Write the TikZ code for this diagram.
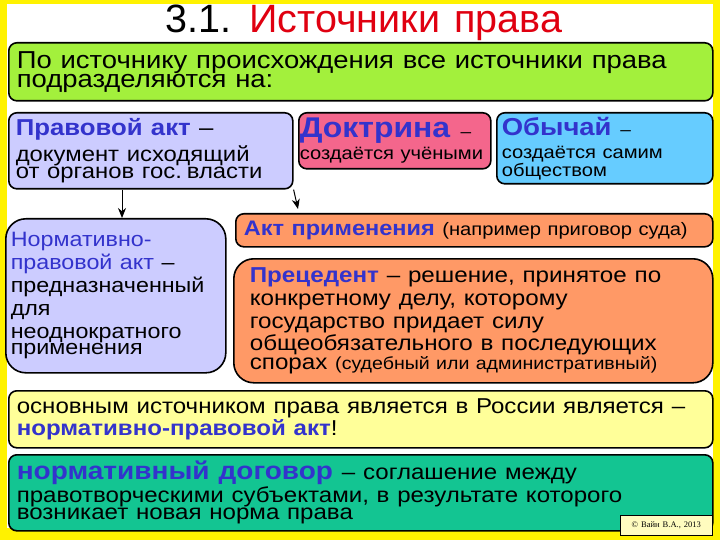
\documentclass[tikz,border=0pt]{standalone}
\usepackage{fontspec}
\setmainfont[FakeStretch=1.12]{Liberation Sans}
\newfontfamily\titlefont{Liberation Sans}
\newfontfamily\serifcopy{Liberation Serif}
\usetikzlibrary{positioning,arrows.meta}
\definecolor{srcgreen}{HTML}{A3F03C}
\definecolor{srclav}{HTML}{CCCCFF}
\definecolor{srcpink}{HTML}{F4668C}
\definecolor{srcsky}{HTML}{66CCFF}
\definecolor{srcorange}{HTML}{FF9966}
\definecolor{srcyellow}{HTML}{FFFF99}
\definecolor{srcteal}{HTML}{13C592}
\definecolor{srcblue}{HTML}{3333CC}
\definecolor{srcred}{HTML}{E00010}
\newcommand{\fsz}[2]{\fontsize{#1}{#2}\selectfont\spaceskip=0.36em plus 0.1em minus 0.04em\relax}
\newcommand{\blu}[1]{\textcolor{srcblue}{#1}}
\lineskiplimit=-100pt

\begin{document}
\begin{tikzpicture}[x=1pt,y=-1pt]
                        \tikzstyle{box}=[draw=black, line width=1.6pt, rounded corners=8pt, anchor=north west, align=left, inner ysep=2pt]
                        \tikzstyle{arr}=[line width=1pt, -{Stealth[length=10pt,width=8pt]}]
                        \useasboundingbox (0,0) rectangle (720,540);
                        \fill[yellow] (0,0) rectangle (720,540);
                        \fill[white] (7,4) rectangle (713,528);
                        \node[anchor=base] (title) at (364,33) {\titlefont\fsz{39.5}{40}3.1. \textcolor{srcred}{Источники права}};
                        \node[box, fill=srcgreen, text width=688pt, inner xsep=8pt, minimum height=58pt] (intro) at (8,42)
                            {\fsz{24.5}{26.5}По источнику происхождения все источники права\\подразделяются на:};
                        \node[box, fill=srclav, text width=270pt, inner xsep=7pt, minimum height=76pt] (pa) at (8,112)
                            {\fsz{23}{21}\blu{\textbf{Правовой акт}} --\\[2pt]\fsz{21.3}{24}документ исходящий\\от органов гос. власти};
                        \node[box, fill=srcpink, text width=190pt, inner xsep=1pt, minimum height=56pt] (doc) at (298,112)
                            {\fsz{28.5}{23}\blu{\textbf{Доктрина}} \fsz{17}{20}--\\[3pt]\fsz{18}{20}создаётся~учёными};
                        \node[box, fill=srcsky, text width=206pt, inner xsep=5pt, minimum height=71pt] (custom) at (496,112)
                            {\fsz{24.5}{22}\blu{\textbf{Обычай}} \fsz{17}{20}--\\[6pt]\fsz{18}{17.5}создаётся самим\\обществом\\[4pt]};
                        \node[box, fill=srclav, rounded corners=20pt, text width=210pt, inner xsep=5pt, minimum height=154pt] (norm) at (5,218)
                            {\fsz{20.8}{22.9}\blu{Нормативно-}\\\blu{правовой акт} --\\предназначенный\\для\\неоднократного\\применения};
                        \node[box, fill=srcorange, text width=461pt, inner xsep=8pt, minimum height=33pt] (akt) at (235,213)
                            {\fsz{21}{20}\blu{\textbf{Акт применения}} \fsz{18}{20}(например приговор суда)};
                        \node[box, fill=srcorange, rounded corners=20pt, text width=447pt, inner xsep=16pt, minimum height=124pt] (prec) at (233,258)
                            {\fsz{21.6}{22.8}\blu{\textbf{Прецедент}} -- решение, принятое по\\конкретному делу, которому\\государство придает силу\\общеобязательного в последующих\\спорах \fsz{17.5}{22.8}(судебный или административный)};
                        \node[box, fill=srcyellow, text width=688pt, inner xsep=8pt, minimum height=57pt] (main) at (8,390)
                            {\fsz{21.5}{23}основным источником права является в России является --\\\blu{\textbf{нормативно-правовой акт}}!};
                        \node[box, fill=srcteal, text width=688pt, inner xsep=8pt, minimum height=76pt] (dog) at (8,454)
                            {\fsz{25}{21.5}\blu{\textbf{нормативный договор}} \fsz{21.5}{24}-- соглашение между\\[-1pt]правотворческими субъектами, в результате которого\\возникает новая норма права};
                        \node[draw=black, line width=0.6pt, fill=yellow!25, anchor=north west, minimum width=92pt, minimum height=20pt, inner sep=1pt] (copy) at (620,515)
                            {\serifcopy\fsz{8.5}{10}© Вайн В.А., 2013};
                        \draw[arr] ([xshift=114pt]pa.south west) -- ([xshift=117pt]norm.north west);
                        \draw[arr] (pa.south east) -- ([xshift=63pt,yshift=4pt]akt.north west);
                    \end{tikzpicture}
\end{document}
